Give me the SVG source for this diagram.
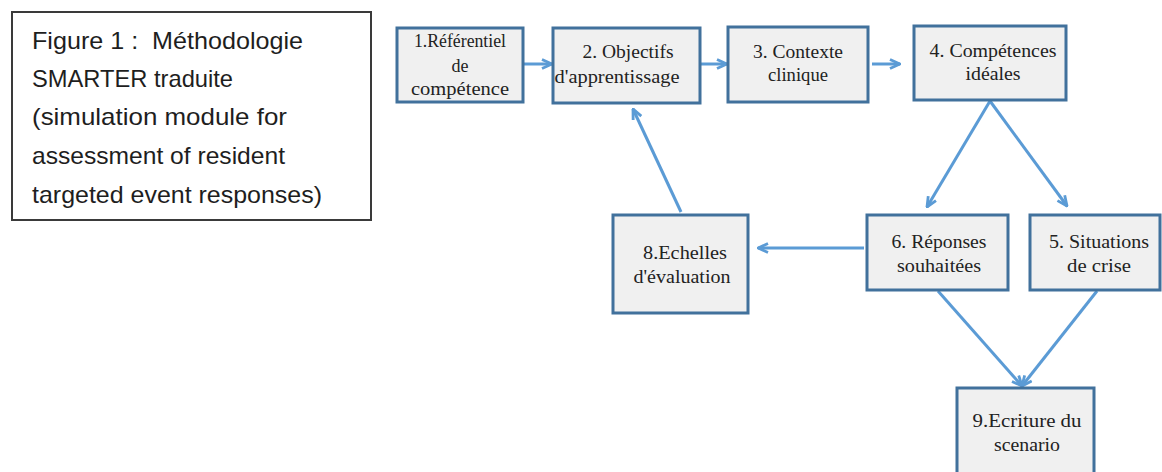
<svg xmlns="http://www.w3.org/2000/svg" width="1162" height="472" viewBox="0 0 1162 472">
<style>
.title{font-family:"Liberation Sans",Arial,sans-serif;font-size:24px;fill:#1e1e1e;white-space:pre}
.box{fill:#f0f0f0;stroke:#41719c;stroke-width:3}
.lbl{font-family:"Liberation Serif","Times New Roman",serif;font-size:18px;fill:#222222;text-anchor:middle}
.con{stroke:#5b9bd5;stroke-width:3;fill:none;marker-end:url(#ah)}
</style>
<defs>
<marker id="ah" markerUnits="userSpaceOnUse" viewBox="0 0 12 12" refX="11" refY="6" markerWidth="12" markerHeight="12" orient="auto">
<path d="M1,1.5 L11,6 L1,10.5" fill="none" stroke="#5b9bd5" stroke-width="2.8" stroke-linejoin="miter"/>
</marker>
</defs>
<rect width="1162" height="472" fill="#ffffff"/>
<g id="title">
<rect x="12" y="12" width="359" height="208" fill="#ffffff" stroke="#3a3a3a" stroke-width="2"/>
<text class="title" x="32" y="49" textLength="271" lengthAdjust="spacingAndGlyphs" xml:space="preserve">Figure 1 :  Méthodologie</text>
<text class="title" x="32" y="87" textLength="201" lengthAdjust="spacingAndGlyphs">SMARTER traduite</text>
<text class="title" x="32" y="125" textLength="255" lengthAdjust="spacingAndGlyphs">(simulation module for</text>
<text class="title" x="32" y="164" textLength="253" lengthAdjust="spacingAndGlyphs">assessment of resident</text>
<text class="title" x="32" y="203" textLength="290" lengthAdjust="spacingAndGlyphs">targeted event responses)</text>
</g>
<g id="connectors">
<line class="con" x1="523" y1="64" x2="552" y2="64"/>
<line class="con" x1="700" y1="64" x2="727" y2="64"/>
<line class="con" x1="872" y1="64" x2="900" y2="64"/>
<line class="con" x1="990" y1="101" x2="927" y2="207"/>
<line class="con" x1="990" y1="101" x2="1067" y2="206"/>
<line class="con" x1="864" y1="248" x2="758" y2="248"/>
<line class="con" x1="681" y1="212" x2="633" y2="109"/>
<line class="con" x1="938" y1="291" x2="1022" y2="386"/>
<line class="con" x1="1097" y1="291" x2="1022" y2="386"/>
</g>
<g id="n1">
<rect class="box" x="397" y="28" width="126" height="74"/>
<text class="lbl" x="460" y="47" textLength="92" lengthAdjust="spacingAndGlyphs">1.Référentiel</text>
<text class="lbl" x="460" y="72">de</text>
<text class="lbl" x="460" y="95" textLength="98" lengthAdjust="spacingAndGlyphs">compétence</text>
</g>
<g id="n2">
<rect class="box" x="553" y="28" width="147" height="75"/>
<text class="lbl" x="628" y="58" textLength="91" lengthAdjust="spacingAndGlyphs">2. Objectifs</text>
<text class="lbl" x="617" y="83" textLength="125" lengthAdjust="spacingAndGlyphs">d'apprentissage</text>
</g>
<g id="n3">
<rect class="box" x="728" y="27" width="140" height="75"/>
<text class="lbl" x="798" y="58" textLength="90" lengthAdjust="spacingAndGlyphs">3. Contexte</text>
<text class="lbl" x="798" y="81" textLength="60" lengthAdjust="spacingAndGlyphs">clinique</text>
</g>
<g id="n4">
<rect class="box" x="914" y="26" width="152" height="74"/>
<text class="lbl" x="993" y="57" textLength="127" lengthAdjust="spacingAndGlyphs">4. Compétences</text>
<text class="lbl" x="993" y="80" textLength="55" lengthAdjust="spacingAndGlyphs">idéales</text>
</g>
<g id="n8">
<rect class="box" x="613" y="215" width="135" height="98"/>
<text class="lbl" x="685" y="259" textLength="84" lengthAdjust="spacingAndGlyphs">8.Echelles</text>
<text class="lbl" x="682" y="283" textLength="97" lengthAdjust="spacingAndGlyphs">d'évaluation</text>
</g>
<g id="n6">
<rect class="box" x="867" y="215" width="141" height="75"/>
<text class="lbl" x="939" y="248" textLength="95" lengthAdjust="spacingAndGlyphs">6. Réponses</text>
<text class="lbl" x="939" y="272" textLength="84" lengthAdjust="spacingAndGlyphs">souhaitées</text>
</g>
<g id="n5">
<rect class="box" x="1030" y="215" width="130" height="75"/>
<text class="lbl" x="1099" y="248" textLength="100" lengthAdjust="spacingAndGlyphs">5. Situations</text>
<text class="lbl" x="1099" y="272" textLength="64" lengthAdjust="spacingAndGlyphs">de crise</text>
</g>
<g id="n9">
<rect class="box" x="957" y="388" width="137" height="92"/>
<text class="lbl" x="1027" y="427" textLength="109" lengthAdjust="spacingAndGlyphs">9.Ecriture du</text>
<text class="lbl" x="1027" y="451" textLength="66" lengthAdjust="spacingAndGlyphs">scenario</text>
</g>
</svg>
